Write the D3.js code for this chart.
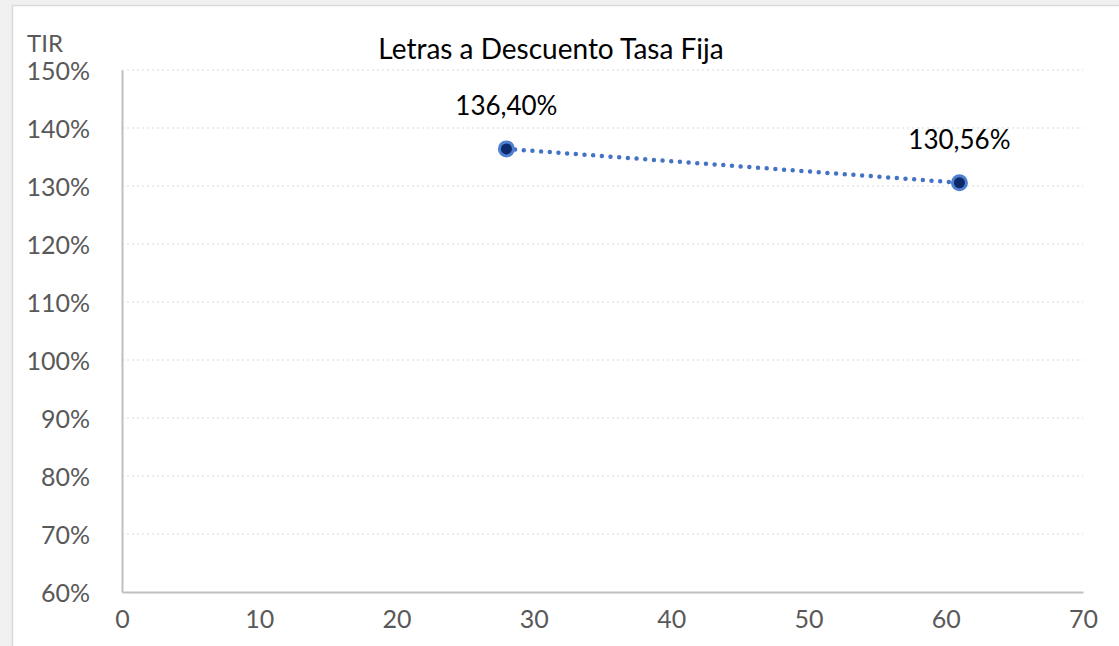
<!DOCTYPE html>
<html>
<head>
<meta charset="utf-8">
<script src="https://cdn.jsdelivr.net/npm/d3@7"></script>
<style>
  body { margin: 0; background: #f0f0f0; }
  svg { display: block; }
</style>
</head>
<body>
<div class="chart"></div>
<script>
// data
var plazos = [28, 61];            // days
var tir = [1.3640, 1.3056];       // TIR
var etiquetas = ["136,40%", "130,56%"];
var xTicks = [0, 10, 20, 30, 40, 50, 60, 70];
var yTicks = [0.6, 0.7, 0.8, 0.9, 1.0, 1.1, 1.2, 1.3, 1.4, 1.5];

var svgWidth = 1119;
var svgHeight = 646;

var margin = { top: 70, right: 36, bottom: 54, left: 122 };
var width = svgWidth - margin.left - margin.right;
var height = svgHeight - margin.top - margin.bottom;

var svg = d3.select(".chart")
  .append("svg")
  .attr("width", svgWidth)
  .attr("height", svgHeight);

// white chart box
svg.append("rect")
  .attr("x", 12.5).attr("y", 5.5)
  .attr("width", svgWidth).attr("height", svgHeight)
  .attr("fill", "#fff")
  .attr("stroke", "#d9d9d9")
  .attr("stroke-width", 1.5);

var chartGroup = svg.append("g")
  .attr("transform", `translate(${margin.left}, ${margin.top})`);

var xScale = d3.scaleLinear().domain([0, 70]).range([0, width]);
var yScale = d3.scaleLinear().domain([0.6, 1.5]).range([height, 0]);

// gridlines
chartGroup.append("g")
  .selectAll("line")
  .data(yTicks.slice(1))
  .enter()
  .append("line")
  .attr("x1", 0).attr("x2", width)
  .attr("y1", d => yScale(d)).attr("y2", d => yScale(d))
  .attr("stroke", "#e6e6e6")
  .attr("stroke-width", 1.5)
  .attr("stroke-dasharray", "2 3");

var pct = d3.format(".0%");

var bottomAxis = d3.axisBottom(xScale).tickValues(xTicks).tickSize(0).tickPadding(18);
var leftAxis = d3.axisLeft(yScale).tickValues(yTicks).tickFormat(pct).tickSize(0).tickPadding(32);

var gx = chartGroup.append("g")
  .attr("transform", `translate(0, ${height})`)
  .call(bottomAxis);
var gy = chartGroup.append("g").call(leftAxis);

[gx, gy].forEach(function(g) {
  g.select(".domain").attr("stroke", "#bfbfbf").attr("stroke-width", 2);
  g.selectAll("text")
    .attr("fill", "#595959")
    .style("font-family", "Lato, sans-serif")
    .style("font-size", "25px");
});
gy.selectAll("text").attr("dy", "0.36em");
gx.selectAll("text").attr("dy", "0.72em");

// dotted line
var line = d3.line()
  .x(d => xScale(d[0]))
  .y(d => yScale(d[1]));
var pts = plazos.map((p, i) => [p, tir[i]]);

chartGroup.append("path")
  .datum(pts)
  .attr("d", line)
  .attr("fill", "none")
  .attr("stroke", "#4472c4")
  .attr("stroke-width", 4.5)
  .attr("stroke-linecap", "round")
  .attr("stroke-dasharray", "0 8.7");

chartGroup.selectAll("circle.pt")
  .data(pts)
  .enter()
  .append("circle")
  .attr("class", "pt")
  .attr("cx", d => xScale(d[0]))
  .attr("cy", d => yScale(d[1]))
  .attr("r", 7)
  .attr("fill", "#0c2a6a")
  .attr("stroke", "#4f7fcf")
  .attr("stroke-width", 3);

chartGroup.selectAll("text.lbl")
  .data(pts)
  .enter()
  .append("text")
  .attr("class", "lbl")
  .attr("x", d => xScale(d[0]))
  .attr("y", d => yScale(d[1]) - 34)
  .attr("text-anchor", "middle")
  .style("font-family", "Lato, sans-serif")
  .style("font-size", "26px")
  .attr("fill", "#000")
  .text((d, i) => etiquetas[i]);

// title and axis title
svg.append("text")
  .attr("x", 551)
  .attr("y", 59)
  .attr("text-anchor", "middle")
  .style("font-family", "Lato, sans-serif")
  .style("font-size", "28px")
  .attr("fill", "#000")
  .text("Letras a Descuento Tasa Fija");

svg.append("text")
  .attr("x", 27)
  .attr("y", 52)
  .style("font-family", "Lato, sans-serif")
  .style("font-size", "24px")
  .attr("fill", "#595959")
  .text("TIR");
</script>
</body>
</html>
